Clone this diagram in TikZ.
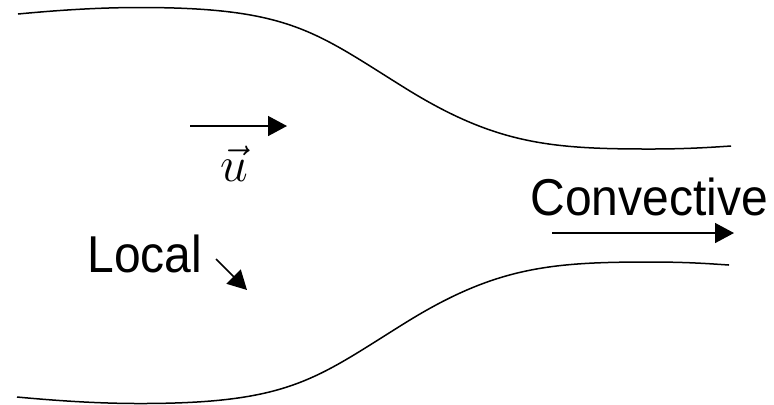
\documentclass[tikz,border=0pt]{standalone}
\usepackage{amsmath}
\usepackage{fontspec}
\setmainfont{Liberation Sans}
\usepackage{tikz}
\usetikzlibrary{arrows.meta, positioning}

\begin{document}
\begin{tikzpicture}[x=0.5pt, y=-0.5pt,
    wall/.style={line width=0.75pt},
    flow/.style={line width=0.75pt, -{Triangle[length=9.5pt, width=10pt]}},
    lbl/.style={inner sep=0pt, font=\fontsize{24}{28}\selectfont}]
  \useasboundingbox (0,0) rectangle (774,404);

  % Walls of the channel
  \draw[wall] (18,14) .. controls (60,10) and (100,7.5) .. (140,7.5)
              .. controls (290,7.5) and (315,32) .. (405,88)
              .. controls (495,144) and (550,149) .. (650,149)
              .. controls (690,149) and (715,147) .. (731,146);
  \draw[wall] (17,397) .. controls (60,401) and (100,403.5) .. (140,403.5)
              .. controls (290,403.5) and (315,379) .. (405,323)
              .. controls (495,267) and (550,262) .. (650,262)
              .. controls (690,262) and (713,264) .. (729,265);

  % Velocity
  \coordinate (u0) at (190,126);
  \coordinate (u1) at (287,126);
  \draw[flow] (u0) -- (u1);
  \node[inner sep=0pt, font=\fontsize{25}{28}\selectfont] (ulabel) at (234,164) {$\vec{u}$};

  % Labels + arrows
  \node[lbl, anchor=base west] (local) at (87,272) {\scalebox{1}[1.08]{Local}};
  \coordinate (l0) at (216,259);
  \coordinate (l1) at (247,290);
  \draw[flow] (l0) -- (l1);

  \node[lbl, anchor=base west] (conv) at (530,215) {\scalebox{1}[1.08]{Convective}};
  \coordinate (c0) at (552,233);
  \coordinate (c1) at (734,233);
  \draw[flow] (c0) -- (c1);
\end{tikzpicture}
\end{document}
